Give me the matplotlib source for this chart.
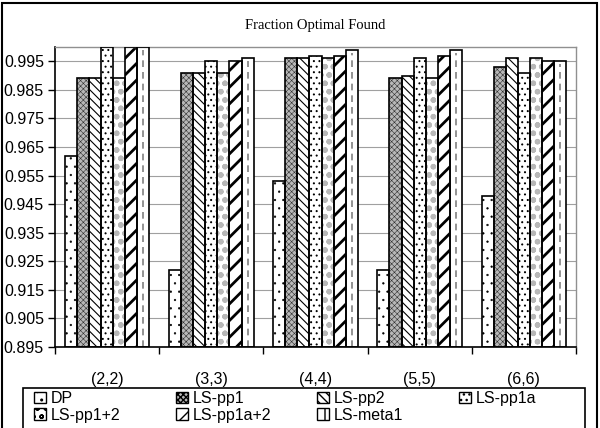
import numpy as np
import matplotlib
matplotlib.use("Agg")
import matplotlib.pyplot as plt
from matplotlib.patches import Patch, Rectangle
from matplotlib.ticker import FixedLocator, FormatStrFormatter

# values
categories = ["(2,2)", "(3,3)", "(4,4)", "(5,5)", "(6,6)"]
series_names = ["DP", "LS-pp1", "LS-pp2", "LS-pp1a", "LS-pp1+2", "LS-pp1a+2", "LS-meta1"]
dp = [0.962, 0.922, 0.953, 0.922, 0.948]
ls_pp1 = [0.989, 0.991, 0.996, 0.989, 0.993]
ls_pp2 = [0.989, 0.991, 0.996, 0.990, 0.996]
ls_pp1a = [1.000, 0.995, 0.997, 0.996, 0.991]
ls_pp1_2 = [0.989, 0.991, 0.996, 0.989, 0.996]
ls_pp1a_2 = [1.000, 0.995, 0.997, 0.997, 0.995]
ls_meta1 = [1.000, 0.996, 0.999, 0.999, 0.995]
y_ticks = [0.895, 0.905, 0.915, 0.925, 0.935, 0.945, 0.955, 0.965, 0.975, 0.985, 0.995]

all_series = [dp, ls_pp1, ls_pp2, ls_pp1a, ls_pp1_2, ls_pp1a_2, ls_meta1]
# (face, hatch, hatch colour, hatch linewidth)
styles = [
    ("white", "..", "black", 0.4),
    ("#b8b8b8", "xxxxxx", "#303030", 0.4),
    ("white", "\\\\\\\\", "black", 0.8),
    ("white", "...", "black", 0.7),
    ("white", "oo", "#b8b8b8", 1.6),
    ("white", "//", "black", 2.0),
    ("white", "", "black", 1.0),
]

plt.rcParams["font.family"] = ["Liberation Sans", "DejaVu Sans"]


def set_hatch_lw(patch, lw):
    if hasattr(patch, "set_hatch_linewidth"):
        patch.set_hatch_linewidth(lw)


fig = plt.figure(figsize=(6.0, 4.28), dpi=100)
ax = fig.add_axes([55 / 600, 1 - 347 / 428, (576 - 55) / 600, (347 - 47) / 428])

x = np.arange(len(categories))
w = 0.116
base = 0.895
handles = []
for i, (vals, name, (face, hatch, hcol, hlw)) in enumerate(zip(all_series, series_names, styles)):
    pos = x + (i - 3) * w
    heights = np.array(vals) - base
    plt.rcParams["hatch.linewidth"] = hlw
    # fill + hatch layer
    bars = ax.bar(pos, heights, w, bottom=base, color=face, hatch=hatch, edgecolor=hcol, linewidth=0, zorder=2)
    for b in bars:
        set_hatch_lw(b, hlw)
    # outline layer
    ax.bar(pos, heights, w, bottom=base, fill=False, edgecolor="black", linewidth=1.2, zorder=3)
    if name == "LS-meta1":
        ax.vlines(pos, base, np.array(vals) - 0.001, colors="#808080", linestyles=(0, (4, 3)),
                  linewidth=1.2, zorder=2.5)
    h = Patch(facecolor=face, hatch=hatch if hatch else "|", edgecolor="black", linewidth=1, label=name)
    set_hatch_lw(h, min(hlw, 1.0))
    handles.append(h)
plt.rcParams["hatch.linewidth"] = 1.0

ax.set_ylim(0.895, 1.0)
ax.set_xlim(-0.5, len(categories) - 0.5)
ax.yaxis.set_major_locator(FixedLocator(y_ticks))
ax.yaxis.set_major_formatter(FormatStrFormatter("%.3f"))
ax.grid(axis="y", color="#a0a0a0", linewidth=0.8, zorder=0)
ax.set_axisbelow(True)

ax.set_xticks(x)
ax.set_xticklabels(categories)
ax.set_xticks(np.arange(len(categories) + 1) - 0.5, minor=True)
ax.tick_params(axis="x", which="major", length=0, pad=18, labelsize=11.5)
ax.tick_params(axis="x", which="minor", length=5, direction="out", width=1)
ax.tick_params(axis="y", length=5, direction="out", width=1, labelsize=11.5, pad=3)

for side in ["top", "right"]:
    ax.spines[side].set_color("#909090")
    ax.spines[side].set_linewidth(1)
for side in ["left", "bottom"]:
    ax.spines[side].set_color("black")
    ax.spines[side].set_linewidth(1.2)

fig.text(315 / 600, 1 - 26 / 428, "Fraction Optimal Found", ha="center", va="center",
         family="Liberation Serif", fontsize=10.5)

# legend: equal-width columns like the original, one small legend per column
col_x = [34, 176, 317, 459]
for c in range(4):
    items = [handles[k] for k in range(c, len(handles), 4)]
    fig.legend(handles=items, loc="upper left", bbox_to_anchor=(col_x[c] / 600, 1 - 391 / 428),
               fontsize=11.5, frameon=False, handlelength=0.75, handleheight=0.75,
               handletextpad=0.3, labelspacing=0.12, borderpad=0, borderaxespad=0)
fig.patches.append(Rectangle((23 / 600, -0.05), (585 - 23) / 600, 0.05 + (428 - 388) / 428,
                             transform=fig.transFigure, fill=False, edgecolor="black", linewidth=1.2))

# outer chart border
fig.patches.append(Rectangle((2 / 600, -0.02), 595 / 600, 1 - 3 / 428 + 0.02, transform=fig.transFigure,
                             fill=False, edgecolor="black", linewidth=1.5))

fig.savefig("out.png", dpi=100)
